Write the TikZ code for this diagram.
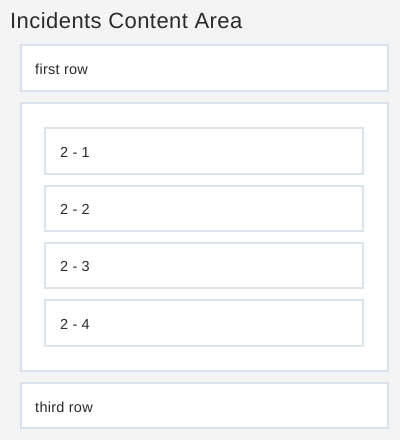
\documentclass[tikz,border=0pt]{standalone}
\usepackage{fontspec}
\setmainfont{Liberation Sans}
\definecolor{pagebg}{HTML}{F4F4F4}
\definecolor{boxline}{HTML}{DCE3EA}
\definecolor{textcol}{HTML}{2B2B2B}
\tikzset{
  rowbox/.style={draw=boxline, fill=white, line width=1.2pt, minimum width=367pt, minimum height=46pt, inner sep=0pt},
  cellbox/.style={draw=boxline, fill=white, line width=1.2pt, minimum width=318pt, minimum height=46pt, inner sep=0pt},
  rowtext/.style={anchor=base west, inner sep=0pt, text=textcol, font=\fontsize{14.5}{16}\selectfont\addfontfeatures{LetterSpace=2}}
}
\begin{document}
\begin{tikzpicture}[x=1pt,y=-1pt]
        \fill[color=pagebg] (0,0) rectangle (400,440);
        \useasboundingbox (0,0) rectangle (400,440);

        \node[anchor=base west, inner sep=0pt, text=textcol, font=\fontsize{22}{26}\selectfont\addfontfeatures{LetterSpace=2}] (title) at (10,28) {Incidents Content Area};

        \node[rowbox] (row1) at (204.5,68) {};
        \node[rowbox, minimum height=268pt] (row2) at (204.5,237) {};
        \node[rowbox, minimum height=45pt] (row3) at (204.5,405.5) {};

        \node[cellbox] (cell1) at (204,151) {};
        \node[cellbox, minimum height=45pt] (cell2) at (204,208.5) {};
        \node[cellbox, minimum height=45pt] (cell3) at (204,265.5) {};
        \node[cellbox] (cell4) at (204,323) {};

        % labels
        \node[rowtext] (row1text) at (35,74.5) {first row};
        \node[rowtext] (row3text) at (35,412) {third row};
        \node[rowtext] (cell1text) at (60,157) {2 - 1};
        \node[rowtext] (cell2text) at (60,214.5) {2 - 2};
        \node[rowtext] (cell3text) at (60,271.5) {2 - 3};
        \node[rowtext] (cell4text) at (60,329) {2 - 4};
    \end{tikzpicture}
\end{document}
